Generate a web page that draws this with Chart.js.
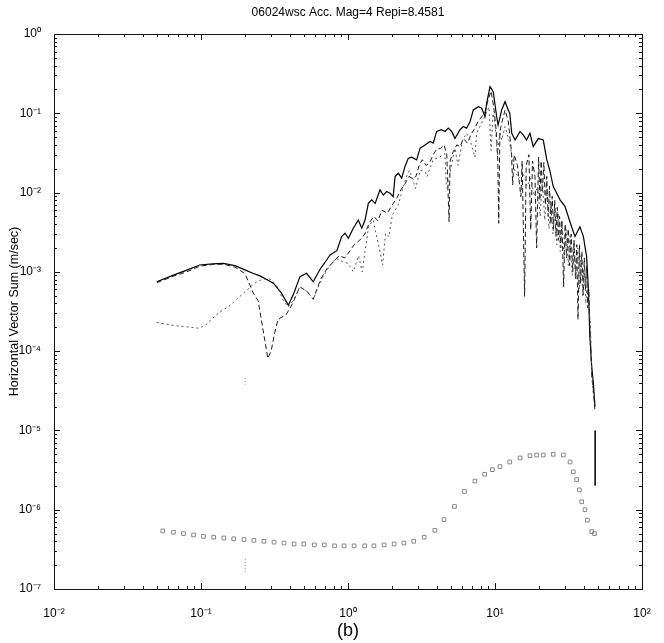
<!DOCTYPE html>
<html>
<head>
<meta charset="utf-8">
<script src="https://cdn.jsdelivr.net/npm/chart.js@4.4.1/dist/chart.umd.min.js"></script>
<style>
html,body{margin:0;padding:0;background:#fff;}
#wrap{width:664px;height:643px;}
</style>
</head>
<body>
<div id="wrap"><canvas id="c" width="664" height="643"></canvas></div>
<script>
const titleText = '06024wsc Acc. Mag=4 Repi=8.4581';
const yLabel = 'Horizontal Vector Sum (m/sec)';
const subLabel = '(b)';
const xTickValues = [0.01, 0.1, 1, 10, 100];
const yTickValues = [1e-7, 1e-6, 1e-5, 1e-4, 1e-3, 1e-2, 1e-1, 1];

// Solid curve (vector sum)
const s1Freq = [0.050,0.065,0.080,0.098,0.12,0.142,0.17,0.199,0.225,0.252,0.28,0.31,0.35,0.393,0.43,0.471,0.523,0.58,0.65,0.716,0.755,0.84,0.905,0.955,1.005,1.087,1.175,1.24,1.306,1.375,1.45,1.53,1.65,1.74,1.83,1.93,2.03,2.09,2.2,2.32,2.44,2.57,2.71,2.93,3.09,3.34,3.61,3.80,4.01,4.33,4.57,4.81,5.07,5.34,5.78,6.09,6.41,6.76,7.12,7.71,8.12,8.55,8.78,9.25,9.73,10.26,10.5,11.1,11.7,12.3,12.6,13.0,13.7,14.8,15.6,16.4,17.3,18.2,19.7,21.3,22.5,23.6,24.9,26.3,27.7,29.9,31.5,33.2,35.0,37.8,39.9,42.0,43.1,44.2,45.5,46.7,47.9];
const s1Val = [7.5e-4,9.1e-4,1.05e-3,1.22e-3,1.26e-3,1.28e-3,1.2e-3,1.06e-3,9.6e-4,8.9e-4,8.0e-4,7.2e-4,5.5e-4,3.8e-4,5.5e-4,8.7e-4,9.6e-4,7.5e-4,1.1e-3,1.41e-3,1.63e-3,1.85e-3,2.78e-3,3.07e-3,2.65e-3,3.55e-3,4.5e-3,3.55e-3,4.5e-3,7.3e-3,8.1e-3,7.3e-3,1.08e-2,9.3e-3,1.03e-2,9.8e-3,8.9e-3,1.59e-2,1.75e-2,1.52e-2,2.12e-2,2.7e-2,2.8e-2,2.58e-2,3.62e-2,3.98e-2,4.4e-2,4.2e-2,5.9e-2,6.2e-2,5.9e-2,6.5e-2,5.9e-2,4.8e-2,6.2e-2,6.8e-2,6.5e-2,7.8e-2,0.11,0.121,0.116,0.091,0.134,0.217,0.187,0.091,0.071,0.11,0.14,0.11,0.1,0.056,0.046,0.059,0.053,0.046,0.056,0.038,0.048,0.046,0.026,0.019,0.0119,0.0098,0.0081,0.0067,0.005,0.0037,0.0028,0.0037,0.0028,0.00156,6.5e-4,1.5e-4,6.4e-5,3.9e-5,2.0e-5];

// Dashed component
const s2Freq = [0.050,0.065,0.080,0.098,0.12,0.142,0.17,0.199,0.227,0.245,0.265,0.285,0.30,0.317,0.334,0.38,0.42,0.47,0.53,0.58,0.65,0.72,0.80,0.87,0.95,1.0,1.1,1.2,1.3,1.4,1.5,1.6,1.7,1.85,2.0,2.15,2.3,2.45,2.6,2.75,2.9,3.05,3.2,3.4,3.6,3.8,4.0,4.25,4.5,4.7,4.87,4.95,5.2,5.5,5.8,6.1,6.5,6.9,7.3,7.7,8.1,8.5,9.0,9.4,9.8,10.2,10.45,10.6,10.8,11.2,11.7,12.3,12.9,13.2,13.5,14.2,15.0,15.3,15.9,16.3,17.0,17.5,18.0,18.7,19.2,19.8,20.2,20.6,21.0,21.5,22.0,22.5,23.0,23.5,24.0,24.5,25.0,25.5,26.0,26.5,27.0,27.5,28.0,28.5,29.3,30.0,30.7,31.5,32.2,33.0,33.8,34.5,35.3,36.0,36.7,37.5,38.2,39.0,39.8,40.5,41.2,42.0,42.8,43.5,44.2,44.8,45.5,46.5,47.8];
const s2Val = [7.3e-4,8.8e-4,1.0e-3,1.18e-3,1.24e-3,1.25e-3,1.15e-3,9.5e-4,5.4e-4,4.3e-4,1.8e-4,8.1e-5,1.0e-4,1.7e-4,2.5e-4,2.9e-4,4.0e-4,6.5e-4,5.6e-4,4.5e-4,8.0e-4,1.1e-3,1.35e-3,1.6e-3,1.5e-3,1.7e-3,2.2e-3,2.5e-3,3.0e-3,4.2e-3,5.0e-3,4.4e-3,6.0e-3,5.5e-3,7.0e-3,8.5e-3,1.1e-2,1.3e-2,1.6e-2,1.5e-2,1.6e-2,2.2e-2,2.6e-2,2.2e-2,2.4e-2,3.0e-2,3.5e-2,3.6e-2,4.0e-2,3.0e-2,4.3e-3,2.5e-2,3.3e-2,4.0e-2,3.8e-2,4.8e-2,4.2e-2,5.5e-2,6.5e-2,8.0e-2,9.0e-2,0.10,0.15,0.19,0.12,6.0e-2,2.5e-2,4.1e-3,5.9e-2,8.0e-2,0.11,8.0e-2,3.5e-2,1.25e-2,3.0e-2,2.2e-2,8.9e-3,2.5e-2,4.9e-4,2.2e-2,3.0e-2,3.4e-3,2.5e-2,1.6e-2,2.0e-3,2.8e-2,8.0e-3,2.5e-2,1.0e-2,2.4e-2,7.0e-3,1.6e-2,5.0e-3,1.2e-2,4.0e-3,9.0e-3,3.5e-3,8.0e-3,2.8e-3,6.5e-3,2.5e-3,5.0e-3,2.0e-3,4.5e-3,6.5e-4,4.0e-3,1.5e-3,3.5e-3,1.2e-3,3.0e-3,1.0e-3,2.5e-3,8.0e-4,2.2e-3,2.5e-4,2.2e-3,7.0e-4,1.8e-3,5.1e-4,1.5e-3,6.0e-4,1.2e-3,3.5e-4,6.0e-4,2.0e-4,1.2e-4,5.0e-5,3.5e-5,1.8e-5];

// Dotted component
const s3Freq = [0.050,0.068,0.085,0.096,0.106,0.12,0.135,0.153,0.175,0.199,0.22,0.24,0.265,0.294,0.325,0.36,0.39,0.43,0.47,0.53,0.58,0.66,0.755,0.83,0.92,1.0,1.087,1.18,1.25,1.31,1.38,1.48,1.58,1.66,1.72,1.8,1.9,2.0,2.2,2.35,2.5,2.62,2.75,2.88,3.1,3.35,3.45,3.6,3.8,4.2,4.57,4.66,4.75,5.0,5.34,5.6,6.0,6.4,6.76,7.3,7.5,7.9,8.3,8.7,9.1,9.4,9.7,10.0,10.4,10.8,11.1,11.7,12.5,13.5,14.5,15.5,16.5,17.5,18.5,19.5,20.3,21.0,21.8,22.5,23.3,24.0,24.8,25.5,26.3,27.0,27.8,28.5,29.5,30.5,31.5,32.5,33.5,34.5,35.5,36.5,37.5,38.5,39.5,40.5,41.5,42.5,43.5,44.5,45.5,46.5,47.5];
const s3Val = [2.3e-4,2.08e-4,2.0e-4,1.95e-4,2.08e-4,2.6e-4,3.15e-4,3.6e-4,4.5e-4,5.6e-4,6.6e-4,7.5e-4,8.1e-4,8.1e-4,6.9e-4,4.5e-4,3.6e-4,4.5e-4,6.5e-4,5.6e-4,4.5e-4,8.0e-4,1.22e-3,1.48e-3,1.35e-3,1.28e-3,1.0e-3,1.6e-3,1.0e-3,1.9e-3,3.7e-3,4.5e-3,2.6e-3,1.7e-3,1.22e-3,3.07e-3,2.78e-3,5.2e-3,7.0e-3,1.1e-2,1.59e-2,1.9e-2,1.5e-2,1.13e-2,1.9e-2,1.83e-2,1.59e-2,2.0e-2,2.6e-2,2.8e-2,3.1e-2,1.25e-2,1.1e-2,2.0e-2,3.6e-2,2.2e-2,4.5e-2,5.6e-2,4.6e-2,2.8e-2,5.6e-2,6.8e-2,8.2e-2,0.1,0.12,3.4e-2,0.1,7.4e-2,3.0e-2,5.9e-2,4.6e-2,6.8e-2,4.5e-2,2.0e-2,1.5e-2,1.8e-2,1.2e-2,1.5e-2,9.0e-3,1.2e-2,5.0e-3,1.4e-2,4.5e-3,1.1e-2,3.5e-3,8.0e-3,3.0e-3,6.5e-3,2.2e-3,5.5e-3,1.8e-3,4.5e-3,1.5e-3,3.5e-3,1.2e-3,3.0e-3,9.0e-4,2.5e-3,8.0e-4,2.0e-3,6.0e-4,1.6e-3,5.0e-4,1.2e-3,4.0e-4,8.0e-4,3.0e-4,2.5e-4,5.0e-5,3.0e-5,2.5e-5];

// End spike
const spikeFreq = [48.0, 48.0];
const spikeVal = [1.0e-5, 2.0e-6];

// Faint vertical marker at 0.2 Hz
const markFreq = [0.2, 0.2, null, 0.2, 0.2];
const markVal = [4.6e-5, 3.8e-5, null, 2.4e-7, 1.65e-7];

// Noise (square markers)
const noiseFreq = [0.055,0.065,0.076,0.089,0.104,0.122,0.143,0.167,0.196,0.229,0.268,0.314,0.367,0.43,0.50,0.59,0.69,0.81,0.94,1.1,1.3,1.5,1.76,2.06,2.4,2.8,3.3,3.9,4.5,5.3,6.2,7.3,8.5,9.6,10.8,12.6,14.8,17.3,19.2,21.3,24.9,29.2,32.4,34.1,35.9,37.5,38.9,40.9,42.5,45.5,47.5];
const noiseVal = [5.4e-7,5.2e-7,5.0e-7,4.8e-7,4.6e-7,4.5e-7,4.4e-7,4.3e-7,4.2e-7,4.1e-7,4.0e-7,3.9e-7,3.8e-7,3.7e-7,3.7e-7,3.6e-7,3.6e-7,3.5e-7,3.5e-7,3.5e-7,3.5e-7,3.5e-7,3.6e-7,3.7e-7,3.8e-7,4.0e-7,4.5e-7,5.5e-7,7.5e-7,1.1e-6,1.7e-6,2.3e-6,2.8e-6,3.2e-6,3.5e-6,4.0e-6,4.5e-6,4.8e-6,4.9e-6,4.9e-6,5.0e-6,4.9e-6,4.0e-6,3.0e-6,2.4e-6,1.78e-6,1.26e-6,1.0e-6,7.4e-7,5.3e-7,5.0e-7];

function pts(fx, vy){ return fx.map((f,i)=> f===null ? {x:null,y:null} : ({x:f, y:vy[i]})); }

const supMap = {'-':'\u207B','0':'\u2070','1':'\u00B9','2':'\u00B2','3':'\u00B3','4':'\u2074','5':'\u2075','6':'\u2076','7':'\u2077','8':'\u2078','9':'\u2079'};
function powLabel(v){ const e = Math.round(Math.log10(v)); return '10' + String(e).split('').map(c=>supMap[c]).join(''); }

const FONT = '"Liberation Sans", Arial, Helvetica, sans-serif';

const framePlugin = {
  id: 'frame',
  afterDraw(chart){
    const {ctx, chartArea:a, scales:{x, y}} = chart;
    ctx.save();
    ctx.strokeStyle = '#111';
    ctx.lineWidth = 1;
    ctx.strokeRect(a.left + 0.5, a.top + 0.5, a.right - a.left, a.bottom - a.top);
    ctx.beginPath();
    for (let e = -2; e <= 2; e++) {
      for (let k = 1; k <= 9; k++) {
        if (e === 2 && k > 1) break;
        const px = Math.round(x.getPixelForValue(k * Math.pow(10, e))) + 0.5;
        const L = k === 1 ? 6 : 3;
        ctx.moveTo(px, a.bottom); ctx.lineTo(px, a.bottom - L);
        ctx.moveTo(px, a.top); ctx.lineTo(px, a.top + L);
      }
    }
    for (let e = -7; e <= 0; e++) {
      for (let k = 1; k <= 9; k++) {
        if (e === 0 && k > 1) break;
        const py = Math.round(y.getPixelForValue(k * Math.pow(10, e))) + 0.5;
        const L = k === 1 ? 6 : 3;
        ctx.moveTo(a.left, py); ctx.lineTo(a.left + L, py);
        ctx.moveTo(a.right, py); ctx.lineTo(a.right - L, py);
      }
    }
    ctx.stroke();
    ctx.fillStyle = '#000';
    ctx.textAlign = 'center';
    ctx.textBaseline = 'middle';
    ctx.font = '12px ' + FONT;
    ctx.fillText(titleText, (a.left + a.right) / 2, 13);
    ctx.font = '18px ' + FONT;
    ctx.fillText(subLabel, (a.left + a.right) / 2, 631);
    ctx.save();
    ctx.translate(15, (a.top + a.bottom) / 2);
    ctx.rotate(-Math.PI / 2);
    ctx.font = '12.5px ' + FONT;
    ctx.fillText(yLabel, 0, 0);
    ctx.restore();
    ctx.restore();
  }
};

new Chart(document.getElementById('c'), {
  type: 'scatter',
  data: {
    datasets: [
      { label: 'dotted', data: pts(s3Freq, s3Val), showLine: true, borderColor: '#555', borderWidth: 1, borderDash: [2, 3], pointRadius: 0, spanGaps: false },
      { label: 'dashed', data: pts(s2Freq, s2Val), showLine: true, borderColor: '#1a1a1a', borderWidth: 1, borderDash: [5, 3], pointRadius: 0 },
      { label: 'sum', data: pts(s1Freq, s1Val), showLine: true, borderColor: '#000', borderWidth: 1.2, pointRadius: 0 },
      { label: 'spike', data: pts(spikeFreq, spikeVal), showLine: true, borderColor: '#000', borderWidth: 1.5, pointRadius: 0 },
      { label: 'mark', data: pts(markFreq, markVal), showLine: true, borderColor: '#888', borderWidth: 1, borderDash: [1, 2], pointRadius: 0, spanGaps: false },
      { label: 'noise', data: pts(noiseFreq, noiseVal), showLine: false, pointStyle: 'rect', pointRadius: 2.6, borderColor: '#8a8a8a', borderWidth: 1, backgroundColor: 'rgba(255,255,255,0)' }
    ]
  },
  options: {
    responsive: false,
    animation: false,
    devicePixelRatio: 1,
    layout: { padding: { top: 34, right: 22, left: 0, bottom: 0 } },
    plugins: { legend: { display: false }, tooltip: { enabled: false }, title: { display: false } },
    scales: {
      x: {
        type: 'logarithmic', min: 0.01, max: 100,
        grid: { display: false },
        border: { display: false },
        afterBuildTicks: s => { s.ticks = xTickValues.map(v => ({ value: v })); },
        afterFit: s => { s.height = 54; },
        ticks: { autoSkip: false, maxRotation: 0, padding: 9, color: '#000', font: { family: FONT, size: 12 }, callback: v => powLabel(v) }
      },
      y: {
        type: 'logarithmic', min: 1e-7, max: 1,
        grid: { display: false },
        border: { display: false },
        afterBuildTicks: s => { s.ticks = yTickValues.map(v => ({ value: v })); },
        afterFit: s => { s.width = 54; },
        ticks: { autoSkip: false, padding: 5, color: '#000', font: { family: FONT, size: 12 }, callback: v => powLabel(v) }
      }
    }
  },
  plugins: [framePlugin]
});
</script>
</body>
</html>
